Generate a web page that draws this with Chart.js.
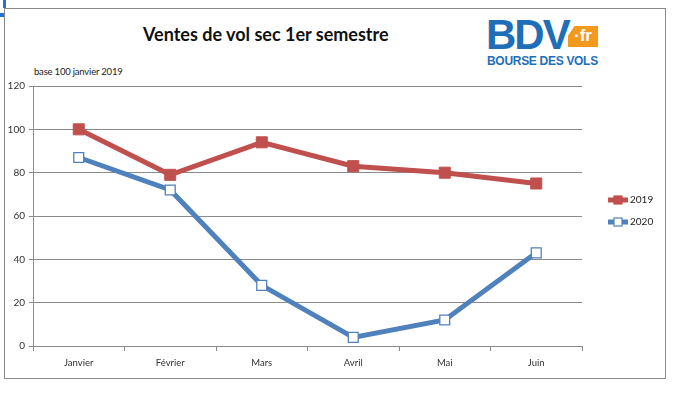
<!DOCTYPE html>
<html>
<head>
<meta charset="utf-8">
<script src="https://cdn.jsdelivr.net/npm/chart.js@4"></script>
<style>
  body { margin: 0; background: #fff; width: 677px; height: 395px; position: relative; overflow: hidden; font-family: Lato, "Open Sans", sans-serif; }
  #frame { position: absolute; left: 4px; top: 8px; width: 660px; height: 369px; border: 1px solid #8a8a8a; }
  #wrap { position: absolute; left: 5px; top: 9px; width: 660px; height: 369px; }
  #title { position: absolute; left: 143px; top: 23px; font-size: 18px; font-weight: bold; color: #111; white-space: nowrap; }
  #sub { position: absolute; left: 34px; top: 66px; font-size: 9.5px; color: #222; white-space: nowrap; letter-spacing: -0.2px; }
  #logo-bdv { position: absolute; left: 486px; top: 13px; font-family: "Liberation Sans", Arial, sans-serif; font-size: 42px; font-weight: bold; color: #1e6fb8; letter-spacing: -2px; line-height: 44px; }
  #logo-fr { position: absolute; left: 568px; top: 26px; width: 30px; height: 21px; background: #f39a1e; color: #fff; font-family: "Liberation Sans", Arial, sans-serif; font-weight: bold; font-size: 17px; line-height: 20px; text-align: center; clip-path: polygon(22% 0, 100% 0, 100% 100%, 0 100%, 0 45%); }
  #logo-sub { position: absolute; left: 487px; top: 54px; font-family: "Liberation Sans", Arial, sans-serif; font-size: 12px; font-weight: bold; color: #1e6fb8; white-space: nowrap; letter-spacing: -0.3px; }
  .mark { position: absolute; background: #2a6fd6; }
</style>
</head>
<body>
<div class="mark" style="left:3px;top:0;width:3px;height:8px"></div>
<div class="mark" style="left:0;top:13px;width:4px;height:4px"></div>
<div id="frame"></div>
<div id="title">Ventes de vol sec 1er semestre</div>
<div id="sub">base 100 janvier 2019</div>
<div id="logo-bdv">BDV</div>
<div id="logo-fr">·fr</div>
<div id="logo-sub">BOURSE DES VOLS</div>
<div id="wrap"><canvas id="chart" width="660" height="369"></canvas></div>
<script>
// Données
const mois = ["Janvier", "Février", "Mars", "Avril", "Mai", "Juin"];
const ventes2019 = [100, 79, 94, 83, 80, 75];
const ventes2020 = [87, 72, 28, 4, 12, 43];
const graduations = [0, 20, 40, 60, 80, 100, 120];

const rouge = "#C0504D";
const bleu = "#4F81BD";

// Légende dessinée à droite, façon Excel (trait + marqueur)
const legendeExcel = {
    id: "legendeExcel",
    afterDraw(chart) {
        const ctx = chart.ctx;
        chart.data.datasets.forEach((ds, i) => {
            const y = 191 + i * 22;
            ctx.save();
            ctx.strokeStyle = ds.borderColor;
            ctx.lineWidth = 5;
            ctx.beginPath();
            ctx.moveTo(603, y);
            ctx.lineTo(623, y);
            ctx.stroke();
            ctx.fillStyle = ds.pointBackgroundColor;
            ctx.strokeStyle = ds.borderColor;
            ctx.lineWidth = 1.2;
            ctx.fillRect(609, y - 4, 8, 8);
            ctx.strokeRect(609, y - 4, 8, 8);
            ctx.fillStyle = "#222";
            ctx.font = "10px Lato";
            ctx.textBaseline = "middle";
            ctx.fillText(ds.label, 625, y);
            ctx.restore();
        });
    }
};

new Chart(document.getElementById("chart"), {
    type: "line",
    data: {
        labels: mois,
        datasets: [
            {
                label: "2019",
                data: ventes2019,
                borderColor: rouge,
                borderWidth: 5,
                pointStyle: "rect",
                pointRadius: 7.8,
                pointBackgroundColor: rouge,
                pointBorderColor: rouge,
                pointBorderWidth: 1,
                tension: 0,
            },
            {
                label: "2020",
                data: ventes2020,
                borderColor: bleu,
                borderWidth: 5,
                pointStyle: "rect",
                pointRadius: 7,
                pointBackgroundColor: "#ffffff",
                pointBorderColor: bleu,
                pointBorderWidth: 1.3,
                tension: 0,
            },
        ],
    },
    options: {
        responsive: false,
        animation: false,
        layout: { padding: { left: 0, right: 83, top: 77, bottom: 0 } },
        plugins: { legend: { display: false }, tooltip: { enabled: false } },
        scales: {
            x: {
                offset: true,
                afterFit(scale) { scale.height = 32; },
                grid: { offset: true, drawOnChartArea: false, drawTicks: true, tickLength: 5, color: "#8a8a8a" },
                border: { color: "#8a8a8a", width: 1 },
                ticks: { font: { size: 9.5, family: "Lato" }, color: "#333", padding: 6, maxRotation: 0 },
            },
            y: {
                min: 0,
                max: 120,
                afterFit(scale) { scale.width = 28; },
                afterBuildTicks(scale) { scale.ticks = graduations.map(v => ({ value: v })); },
                grid: { color: "#8a8a8a", tickLength: 4 },
                border: { color: "#8a8a8a", width: 1 },
                ticks: { font: { size: 10, family: "Lato" }, color: "#333", padding: 4 },
            },
        },
    },
    plugins: [legendeExcel],
});
</script>
</body>
</html>
